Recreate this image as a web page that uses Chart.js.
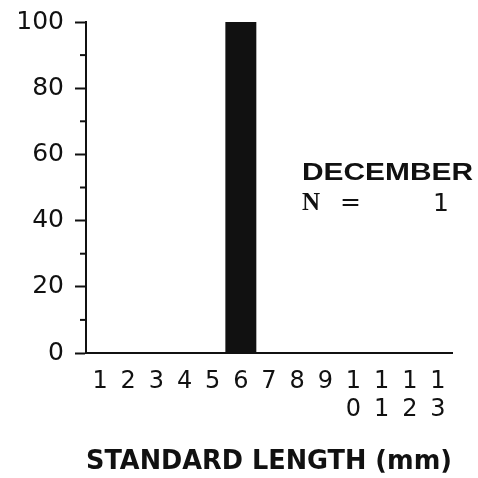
<!DOCTYPE html>
<html lang="en">
<head>
  <meta charset="UTF-8" />
  <title>December length frequency</title>
  <script src="https://cdn.jsdelivr.net/npm/chart.js"></script>
  <style>
    html, body { margin: 0; padding: 0; background: #fff; }
    #wrap { width: 478px; height: 478px; position: relative; }
  </style>
</head>
<body>
  <div id="wrap"><canvas id="chart"></canvas></div>

  <script>
    // Data
    const lengths = ["1", "2", "3", "4", "5", "6", "7", "8", "9", ["1", "0"], ["1", "1"], ["1", "2"], ["1", "3"]];
    const percent = [0, 0, 0, 0, 0, 100, 0, 0, 0, 0, 0, 0, 0];
    const yTicks = [0, 20, 40, 60, 80, 100];
    const yMinor = [10, 30, 50, 70, 90];
    const monthLabel = "DECEMBER";
    const sampleSize = 1;

    // draw text squeezed/stretched to a given width
    function fitText(ctx, txt, x, y, w) {
      const m = ctx.measureText(txt).width;
      ctx.save();
      ctx.translate(x, y);
      ctx.scale(w / m, 1);
      ctx.fillText(txt, 0, 0);
      ctx.restore();
    }

    // minor y ticks + month / N note
    const extras = {
      id: "extras",
      afterDraw(chart) {
        const ctx = chart.ctx;
        const y = chart.scales.y;
        const x0 = chart.chartArea.left;
        ctx.save();
        ctx.strokeStyle = "#111";
        ctx.lineWidth = 2;
        yMinor.forEach(v => {
          const py = y.getPixelForValue(v);
          ctx.beginPath();
          ctx.moveTo(x0 - 6, py);
          ctx.lineTo(x0, py);
          ctx.stroke();
        });
        ctx.fillStyle = "#111";
        ctx.textBaseline = "middle";
        ctx.textAlign = "left";
        ctx.font = "bold 24px 'Liberation Sans', Arial, sans-serif";
        fitText(ctx, monthLabel, 302, 173, 171);
        ctx.font = "bold 25px 'Liberation Serif', serif";
        ctx.fillText("N", 302, 204);
        ctx.font = "25px 'DejaVu Sans', sans-serif";
        ctx.fillText("=", 340, 203);
        ctx.textAlign = "right";
        ctx.fillText(String(sampleSize), 449, 204);
        ctx.restore();
      }
    };

    new Chart(document.getElementById("chart"), {
      type: "bar",
      data: {
        labels: lengths,
        datasets: [{
          data: percent,
          backgroundColor: "#111",
          borderWidth: 0,
          barPercentage: 1.1,
          categoryPercentage: 1
        }]
      },
      options: {
        responsive: true,
        maintainAspectRatio: false,
        animation: false,
        layout: { padding: { top: 22, right: 26, left: 0, bottom: 0 } },
        plugins: { legend: { display: false }, tooltip: { enabled: false } },
        scales: {
          x: {
            afterFit: s => { s.height = 125; },
            grid: { display: false },
            border: { color: "#111", width: 2 },
            ticks: {
              color: "#111",
              font: { family: "'DejaVu Sans', sans-serif", size: 24, lineHeight: 1.15 },
              maxRotation: 0,
              autoSkip: false,
              padding: 7
            },
            title: {
              display: true,
              text: "STANDARD LENGTH (mm)",
              color: "#111",
              font: { family: "'DejaVu Sans', sans-serif", size: 26, weight: "bold" },
              padding: { top: 10, bottom: 0 }
            }
          },
          y: {
            min: 0,
            max: 100,
            afterBuildTicks: s => { s.ticks = yTicks.map(v => ({ value: v })); },
            afterFit: s => { s.width = 86; s.paddingTop = 0; s.paddingBottom = 0; },
            grid: { drawOnChartArea: false, tickLength: 11, color: "#111", tickWidth: 2 },
            border: { color: "#111", width: 2 },
            ticks: {
              color: "#111",
              font: { family: "'DejaVu Sans', sans-serif", size: 25 },
              padding: 11
            }
          }
        }
      },
      plugins: [extras]
    });
  </script>
</body>
</html>
